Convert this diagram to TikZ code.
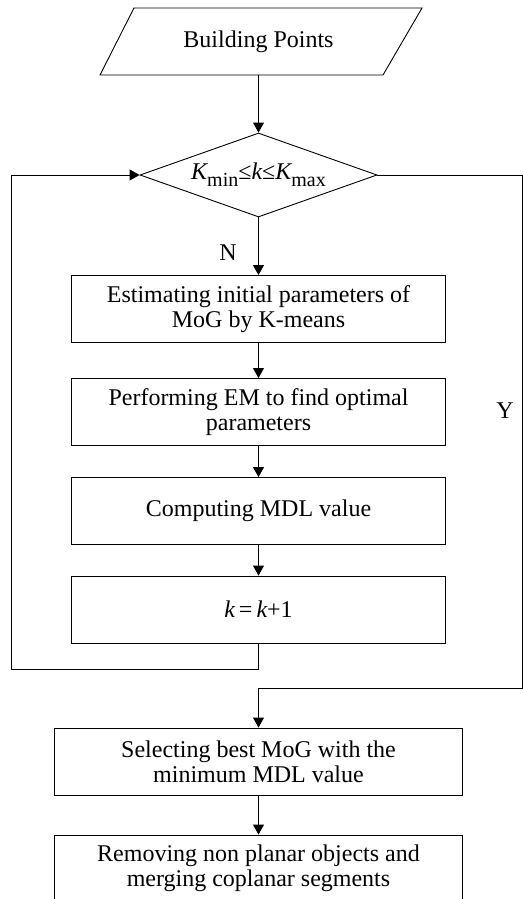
\documentclass[tikz,border=0pt]{standalone}
\usepackage{fontspec}
\setmainfont{Liberation Serif}
\usetikzlibrary{shapes.geometric,arrows.meta}
\newcommand{\sbs}[1]{\raisebox{-0.3em}{\fontsize{20}{20}\selectfont #1}}
\begin{document}
\begin{tikzpicture}[x=1pt,y=-1pt,
  line width=0.9pt,
  font=\fontsize{24}{25}\selectfont,
  arr/.style={-{Triangle[length=10pt,width=11pt]}},
  procbox/.style={draw, rectangle, minimum height=67pt, inner sep=0pt, align=center},
  decbox/.style={draw, diamond, minimum width=237pt, minimum height=84pt, inner sep=0pt, aspect=2.82},
  lbl/.style={inner sep=0pt}]
\useasboundingbox (0,0) rectangle (523,899);
\clip (0,0) rectangle (523,899);
% input parallelogram
\node[minimum width=250pt, minimum height=67pt, inner sep=0pt] (in) at (258.5,41.5) {Building Points};
\draw (134,8) -- (422,8) -- (383,75) -- (100,75) -- cycle;
% decision
\node[decbox] (dec) at (258.5,175) {\itshape K\upshape\sbs{min}≤\itshape k\upshape≤\itshape K\upshape\sbs{max}};
% process boxes
\node[procbox, minimum width=374pt] (b1) at (258.5,309) {Estimating initial parameters of\\MoG by K-means};
\node[procbox, minimum width=374pt] (b2) at (258.5,412) {Performing EM to find optimal\\parameters};
\node[procbox, minimum width=374pt] (b3) at (258.5,511) {Computing MDL value};
\node[procbox, minimum width=374pt] (b4) at (258.5,609.5) {\itshape k\,\upshape=\,\itshape k\upshape+1};
\node[procbox, minimum width=408pt] (b5) at (258.5,761.5) {Selecting best MoG with the\\minimum MDL value};
\node[procbox, minimum width=408pt] (b6) at (258.5,868.5) {Removing non planar objects and\\merging coplanar segments};
% labels
\node[lbl] (N) at (228,253) {N};
\node[lbl] (Y) at (505,411) {Y};
% corner coordinates
\coordinate (l1) at (11,669);
\coordinate (l2) at (11,175);
\coordinate (r1) at (522,175);
\coordinate (r2) at (522,688);
\coordinate (r3) at (258.5,688);
\coordinate (l0) at (258.5,669);
% connectors
\draw[arr] (in.south) -- (dec.north);
\draw[arr] (dec.south) -- (b1.north);
\draw[arr] (b1.south) -- (b2.north);
\draw[arr] (b2.south) -- (b3.north);
\draw[arr] (b3.south) -- (b4.north);
\draw[arr] (b4.south) -- (l0) -- (l1) -- (l2) -- (dec.west);
\draw[arr] (dec.east) -- (r1) -- (r2) -- (r3) -- (b5.north);
\draw[arr] (b5.south) -- (b6.north);
\end{tikzpicture}
\end{document}
